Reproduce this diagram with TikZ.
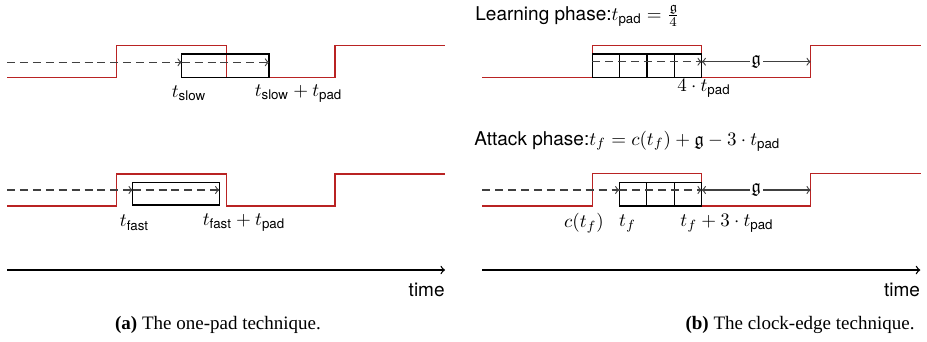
\documentclass[tikz,border=0pt]{standalone}
\usepackage{amsmath,amssymb}
\usepackage[no-math]{fontspec}
\setsansfont{TeX Gyre Heros}
\newfontfamily\capfont{Liberation Serif}
\definecolor{sigred}{RGB}{185,35,35}
\tikzset{
  sig/.style={draw=sigred, line width=0.8pt},
  padline/.style={draw=black, line width=0.55pt},
  dsh/.style={draw=black!75, line width=0.6pt, dash pattern=on 4.2pt off 2.6pt, ->},
  gaparrow/.style={draw=black!75, line width=0.6pt, <->},
  glabel/.style={fill=white, inner sep=0.8pt},
  lbl/.style={inner sep=0pt},
  axis/.style={draw=black, line width=0.7pt, ->},
}
\begin{document}
\begin{tikzpicture}[x=0.5263pt, y=-0.5263pt]
\useasboundingbox (0,0) rectangle (927,341);
\fill[white] (0,0) rectangle (927,341);

% ---------- (a) top: slow ----------
\draw[sig] (7,77.5) -| (116.7,45.3) -| (226.7,77.5) -| (335,45.3) -- (445,45.3);
\draw[padline] (181.7,54) rectangle (269,77.5);
\coordinate (as0) at (7,62.3);
\coordinate (as1) at (181.7,62.3);
\coordinate (as2) at (269,62.3);
\draw[dsh] (as0) -- (as1);
\draw[dsh] (as1) -- (as2);
\node[lbl] (tslow) at (189,93.3) {$t_{\textsf{slow}}$};
\node[lbl] (tslowpad) at (298.5,93.3) {$t_{\textsf{slow}}+t_{\textsf{pad}}$};

% ---------- (a) bottom: fast ----------
\draw[sig] (7,206) -| (116.7,174) -| (226.7,206) -| (335,174) -- (445,174);
\draw[padline] (132.7,182.3) rectangle (219.3,205);
\coordinate (af0) at (7,190);
\coordinate (af1) at (132.7,190);
\coordinate (af2) at (219.3,190);
\draw[dsh] (af0) -- (af1);
\draw[dsh] (af1) -- (af2);
\node[lbl] (tfast) at (134.5,222.7) {$t_{\textsf{fast}}$};
\node[lbl] (tfastpad) at (244,222.7) {$t_{\textsf{fast}}+t_{\textsf{pad}}$};

% ---------- (a) time axis ----------
\coordinate (ta0) at (7,270);
\coordinate (ta1) at (445,270);
\draw[axis] (ta0) -- (ta1);
\node[lbl, anchor=east, font=\sffamily] (timea) at (445,290) {time};
\node[font=\capfont] (capa) at (218,325) {\textbf{(a)} The one-pad technique.};

% ---------- (b) learning phase ----------
\node[lbl, anchor=base west, font=\sffamily] (learn) at (475,20) {Learning phase:$t_{\textsf{pad}}=\frac{\mathfrak{g}}{4}$};
\draw[sig] (482.3,77.7) -| (592.3,45.7) -| (701.7,77.7) -| (810.7,45.7) -- (920.7,45.7);
\foreach \i in {0,...,3}
  \draw[padline] (592.3+27.35*\i,54) rectangle ++(27.35,23.7);
\coordinate (bl0) at (592.3,61.7);
\coordinate (bl1) at (701.7,61.7);
\coordinate (bl2) at (810.7,61.7);
\draw[dsh] (bl0) -- (bl1);
\draw[gaparrow] (bl1) -- node[glabel] (gl) {$\mathfrak{g}$} (bl2);
\node[lbl] (fourpad) at (704,88.3) {$4\cdot t_{\textsf{pad}}$};

% ---------- (b) attack phase ----------
\node[lbl, anchor=base west, font=\sffamily] (attack) at (474,145) {Attack phase:$t_f=c(t_f)+\mathfrak{g}-3\cdot t_{\textsf{pad}}$};
\draw[sig] (482.3,206) -| (592.3,173.3) -| (701.7,206) -| (810.7,173.3) -- (920.7,173.3);
\foreach \i in {0,...,2}
  \draw[padline] (619.3+27.47*\i,182.3) rectangle ++(27.47,23.7);
\coordinate (ba0) at (482.3,190);
\coordinate (ba1) at (619.3,190);
\coordinate (ba2) at (701.7,190);
\coordinate (ba3) at (810.7,190);
\draw[dsh] (ba0) -- (ba1);
\draw[dsh] (ba1) -- (ba2);
\draw[gaparrow] (ba2) -- node[glabel] (ga) {$\mathfrak{g}$} (ba3);
\node[lbl] (ctf) at (584,223.3) {$c(t_f)$};
\node[lbl] (tf) at (627.5,223.3) {$t_f$};
\node[lbl] (tfpad) at (727,223.3) {$t_f+3\cdot t_{\textsf{pad}}$};

% ---------- (b) time axis ----------
\coordinate (tb0) at (482,270);
\coordinate (tb1) at (920.3,270);
\draw[axis] (tb0) -- (tb1);
\node[lbl, anchor=east, font=\sffamily] (timeb) at (920.3,290) {time};
\node[font=\capfont] (capb) at (800,325) {\textbf{(b)} The clock-edge technique.};
\end{tikzpicture}
\end{document}
